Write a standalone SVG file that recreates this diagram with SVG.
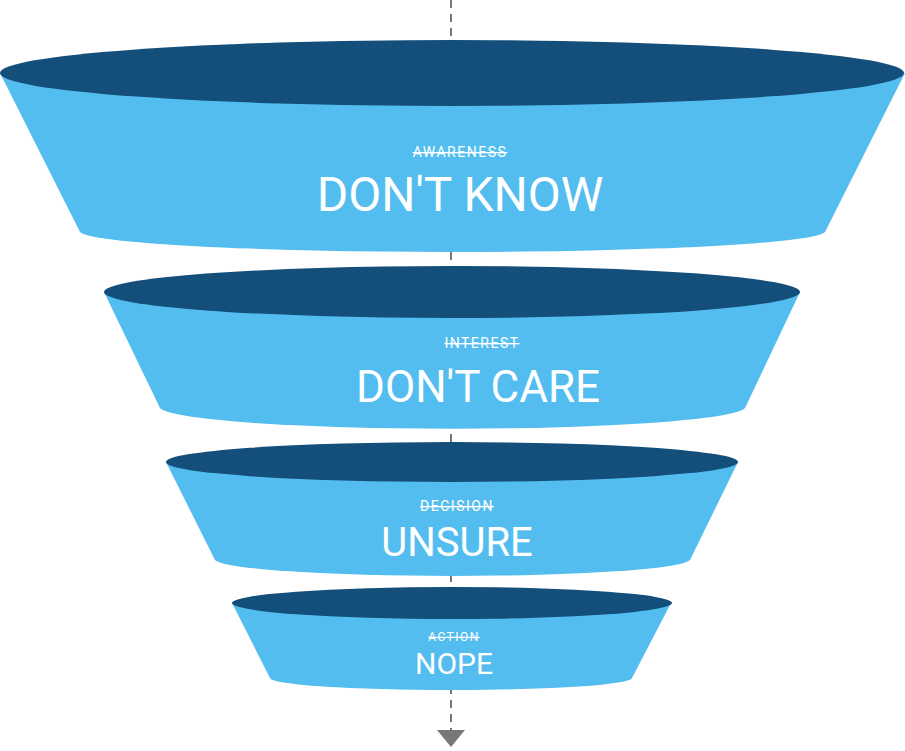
<svg xmlns="http://www.w3.org/2000/svg" width="905" height="751" viewBox="0 0 905 751">
<style>
.body{fill:#53bdef}
.top{fill:#134f7a}
.small{font-family:Roboto,"Liberation Sans",sans-serif;fill:#fff;text-anchor:middle;letter-spacing:1.5px;text-decoration:line-through}
.big{font-family:Roboto,"Liberation Sans",sans-serif;fill:#fff;text-anchor:middle}
</style>
<g id="connectors">
<line x1="451" y1="0" x2="451" y2="730" stroke="#777" stroke-width="2" stroke-dasharray="8,6"/>
<polygon points="437,730 465,730 451,747" fill="#777"/>
</g>
<g id="awareness">
<path class="body" d="M0,73 L905,73 L825,232 A373,21 0 0 1 80,232 Z"/>
<ellipse class="top" cx="452" cy="73" rx="452" ry="33"/>
<text class="small" x="460" y="157" font-size="14">AWARENESS</text>
<text class="big" x="460" y="211" font-size="48">DON'T KNOW</text>
</g>
<g id="interest">
<path class="body" d="M104,292 L800,292 L745,408 A293,22 0 0 1 160,408 Z"/>
<ellipse class="top" cx="452" cy="292" rx="348" ry="26"/>
<text class="small" x="482" y="348" font-size="14">INTEREST</text>
<text class="big" x="478" y="402" font-size="44">DON'T CARE</text>
</g>
<g id="decision">
<path class="body" d="M166,462 L738,462 L690,560 A238,17 0 0 1 215,560 Z"/>
<ellipse class="top" cx="452" cy="462" rx="286" ry="20"/>
<text class="small" x="457" y="511" font-size="14">DECISION</text>
<text class="big" x="457" y="556" font-size="40">UNSURE</text>
</g>
<g id="action">
<path class="body" d="M232,603 L671,603 L632,678 A181,12 0 0 1 270,678 Z"/>
<ellipse class="top" cx="452" cy="603" rx="220" ry="16"/>
<text class="small" x="454" y="641" font-size="12">ACTION</text>
<text class="big" x="454" y="674" font-size="30">NOPE</text>
</g>
</svg>
